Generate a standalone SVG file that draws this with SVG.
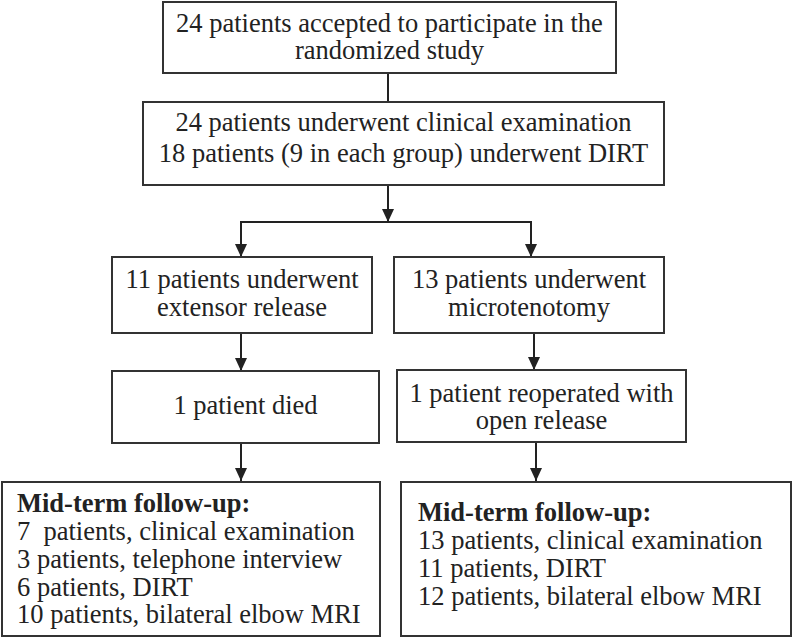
<svg xmlns="http://www.w3.org/2000/svg" width="793" height="637" viewBox="0 0 793 637">
<defs>
<marker id="ah" viewBox="0 0 13 12" refX="13" refY="6" markerWidth="13" markerHeight="12" markerUnits="userSpaceOnUse" orient="auto">
<path d="M0,0 L13,6 L0,12 Z" fill="#222"/>
</marker>
<style>
.box{fill:#fff;stroke:#333;stroke-width:2}
.ln{fill:none;stroke:#222;stroke-width:2}
.t{font-size:26.5px;fill:#222}
.c{text-anchor:middle}
.b{font-weight:bold}
</style>
</defs>
<rect width="793" height="637" fill="#fff"/>
<g id="connectors">
<line class="ln" x1="388" y1="73" x2="388" y2="102"/>
<line class="ln" x1="388" y1="185" x2="388" y2="222" marker-end="url(#ah)"/>
<polyline class="ln" points="241,257 241,222 531,222 531,257"/>
<line class="ln" x1="241" y1="222" x2="241" y2="257" marker-end="url(#ah)"/>
<line class="ln" x1="531" y1="222" x2="531" y2="257" marker-end="url(#ah)"/>
<line class="ln" x1="241" y1="333" x2="241" y2="371" marker-end="url(#ah)"/>
<line class="ln" x1="534" y1="333" x2="534" y2="370" marker-end="url(#ah)"/>
<line class="ln" x1="241" y1="443" x2="241" y2="481" marker-end="url(#ah)"/>
<line class="ln" x1="536" y1="442" x2="536" y2="481" marker-end="url(#ah)"/>
</g>
<g id="n1">
<rect class="box" x="163" y="2" width="453" height="71"/>
<text class="t c" font-family="Liberation Serif" x="389.5" y="31.5">24 patients accepted to participate in the</text>
<text class="t c" font-family="Liberation Serif" x="389.5" y="59">randomized study</text>
</g>
<g id="n2">
<rect class="box" x="143" y="102" width="521" height="83"/>
<text class="t c" font-family="Liberation Serif" x="403.5" y="130.5">24 patients underwent clinical examination</text>
<text class="t c" font-family="Liberation Serif" x="403.5" y="161.5">18 patients (9 in each group) underwent DIRT</text>
</g>
<g id="n3">
<rect class="box" x="112" y="257" width="260" height="76"/>
<text class="t c" font-family="Liberation Serif" x="242" y="288">11 patients underwent</text>
<text class="t c" font-family="Liberation Serif" x="242" y="316">extensor release</text>
</g>
<g id="n4">
<rect class="box" x="394" y="257" width="270" height="76"/>
<text class="t c" font-family="Liberation Serif" x="529" y="288">13 patients underwent</text>
<text class="t c" font-family="Liberation Serif" x="529" y="316">microtenotomy</text>
</g>
<g id="n5">
<rect class="box" x="112" y="371" width="267" height="72"/>
<text class="t c" font-family="Liberation Serif" x="245.5" y="414">1 patient died</text>
</g>
<g id="n6">
<rect class="box" x="397" y="370" width="289" height="72"/>
<text class="t c" font-family="Liberation Serif" x="541.5" y="401.5">1 patient reoperated with</text>
<text class="t c" font-family="Liberation Serif" x="541.5" y="429">open release</text>
</g>
<g id="n7">
<rect class="box" x="2" y="482" width="378" height="154"/>
<text class="t b" font-family="Liberation Serif" x="17" y="511.5">Mid-term follow-up:</text>
<text class="t" font-family="Liberation Serif" x="17" y="540" xml:space="preserve">7  patients, clinical examination</text>
<text class="t" font-family="Liberation Serif" x="17" y="568">3 patients, telephone interview</text>
<text class="t" font-family="Liberation Serif" x="17" y="595.5">6 patients, DIRT</text>
<text class="t" font-family="Liberation Serif" x="17" y="623">10 patients, bilateral elbow MRI</text>
</g>
<g id="n8">
<rect class="box" x="401" y="482" width="390" height="154"/>
<text class="t b" font-family="Liberation Serif" x="418" y="521">Mid-term follow-up:</text>
<text class="t" font-family="Liberation Serif" x="418" y="549">13 patients, clinical examination</text>
<text class="t" font-family="Liberation Serif" x="418" y="577">11 patients, DIRT</text>
<text class="t" font-family="Liberation Serif" x="418" y="605">12 patients, bilateral elbow MRI</text>
</g>
</svg>
